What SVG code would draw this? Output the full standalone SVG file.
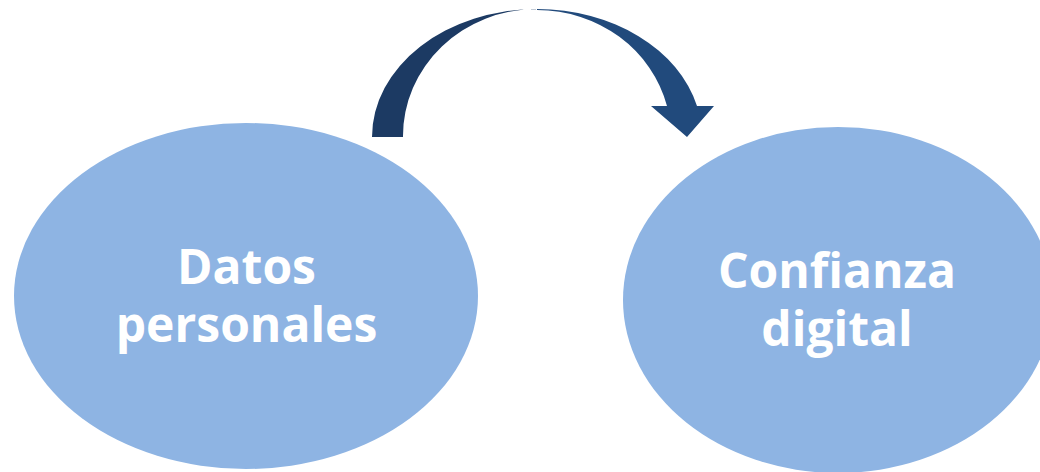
<svg xmlns="http://www.w3.org/2000/svg" width="1040" height="472" viewBox="0 0 1040 472">
  <style>
    .node { fill: #8EB4E3; }
    .label { fill: #FFFFFF; font-family: "Open Sans", "Noto Sans", "Liberation Sans", sans-serif; font-weight: 700; font-size: 48px; text-anchor: middle; }
    .arc-back { fill: #1C3A63; }
    .arc-front { fill: #214A7C; }
  </style>
  <rect width="1040" height="472" fill="#FFFFFF"/>

  <!-- curved arrow from the left node over to the right node -->
  <g id="connectors">
    <path class="arc-back" d="M372,137 A165,128 0 0 1 537,9 A134,127 0 0 0 403,137 Z"/>
    <path class="arc-front" d="M537,9 A165,128 0 0 1 697,106 L714,106 L687,137 L651,106 L667,106 A134,127 0 0 0 537,10 Z"/>
  </g>

  <g id="node-datos">
    <ellipse class="node" cx="246" cy="296" rx="232" ry="173"/>
    <text class="label" x="246.5" y="284">Datos</text>
    <text class="label" x="246.5" y="342">personales</text>
  </g>

  <g id="node-confianza">
    <ellipse class="node" cx="838" cy="300" rx="215" ry="173"/>
    <text class="label" x="837" y="288">Confianza</text>
    <text class="label" x="837" y="346">digital</text>
  </g>
</svg>
